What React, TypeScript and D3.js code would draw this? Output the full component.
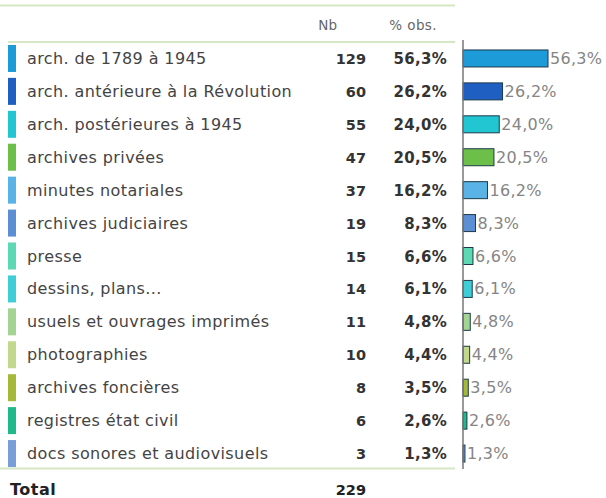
import { useEffect, useRef } from 'react'
import * as d3 from 'd3'

const categories = [
  'arch. de 1789 à 1945',
  'arch. antérieure à la Révolution',
  'arch. postérieures à 1945',
  'archives privées',
  'minutes notariales',
  'archives judiciaires',
  'presse',
  'dessins, plans...',
  'usuels et ouvrages imprimés',
  'photographies',
  'archives foncières',
  'registres état civil',
  'docs sonores et audiovisuels',
]
const counts = [129, 60, 55, 47, 37, 19, 15, 14, 11, 10, 8, 6, 3]
const percents = [56.3, 26.2, 24.0, 20.5, 16.2, 8.3, 6.6, 6.1, 4.8, 4.4, 3.5, 2.6, 1.3]
const colors = [
  '#1c9bd8', '#1f5fc2', '#22c6d2', '#6cc04a', '#5ab3e6', '#5b8ed2', '#5cd8b2',
  '#3fcdd8', '#a3d493', '#c2d88c', '#a6b83a', '#1fb98b', '#7a9fd8',
]
const total = 229

const W = 606
const H = 498
const fmt = (v: number) => v.toFixed(1).replace('.', ',') + '%'

export default function App() {
  const svgRef = useRef<SVGSVGElement>(null)

  useEffect(() => {
    const svg = d3.select(svgRef.current)
    svg.selectAll('*').remove()
    svg.attr('width', W).attr('height', H)

    const font = '"DejaVu Sans", Verdana, sans-serif'
    const y = d3.scaleBand<number>()
      .domain(d3.range(categories.length))
      .range([42, 470])
      .paddingInner(0)
    const x = d3.scaleLinear().domain([0, 56.3]).range([463, 548])

    const lineCol = '#d6e7c4'
    // table rules
    svg.append('line').attr('x1', 0).attr('x2', 455).attr('y1', 5.5).attr('y2', 5.5)
      .attr('stroke', lineCol).attr('stroke-width', 2)
    svg.append('line').attr('x1', 8).attr('x2', 455).attr('y1', 42).attr('y2', 42)
      .attr('stroke', lineCol).attr('stroke-width', 2)
    svg.append('line').attr('x1', 0).attr('x2', 455).attr('y1', 468.5).attr('y2', 468.5)
      .attr('stroke', lineCol).attr('stroke-width', 2)

    // headers
    svg.append('text').attr('x', 337).attr('y', 30).attr('text-anchor', 'end')
      .attr('font-family', font).attr('font-size', 13.5).attr('fill', '#666').text('Nb')
    svg.append('text').attr('x', 437).attr('y', 30).attr('text-anchor', 'end')
      .attr('font-family', font).attr('font-size', 13.5).attr('letter-spacing', 0.4).attr('fill', '#666').text('% obs.')

    const rows = svg.append('g').selectAll('g')
      .data(d3.range(categories.length))
      .join('g')
      .attr('transform', i => `translate(0,${(y(i) ?? 0) + y.bandwidth() / 2})`)

    rows.append('rect').attr('x', 8).attr('y', -13.5).attr('width', 8).attr('height', 27)
      .attr('fill', i => colors[i])
    rows.append('text').attr('x', 27).attr('y', 5.5)
      .attr('font-family', font).attr('font-size', 16).attr('letter-spacing', 0.4).attr('fill', '#444')
      .text(i => categories[i])
    rows.append('text').attr('x', 366).attr('y', 5.5).attr('text-anchor', 'end')
      .attr('font-family', font).attr('font-size', 14.5).attr('font-weight', 'bold').attr('fill', '#333')
      .text(i => counts[i])
    rows.append('text').attr('x', 447).attr('y', 5.5).attr('text-anchor', 'end')
      .attr('font-family', font).attr('font-size', 15).attr('letter-spacing', 0.3)
      .attr('font-weight', 'bold').attr('fill', '#333')
      .text(i => fmt(percents[i]))

    rows.append('rect')
      .attr('x', x(0)).attr('y', -8.5)
      .attr('width', i => Math.max(1, x(percents[i]) - x(0)))
      .attr('height', 17)
      .attr('fill', i => colors[i])
      .attr('stroke', '#1d3a4a').attr('stroke-width', 1)
    rows.append('text')
      .attr('x', i => x(percents[i]) + 2).attr('y', 5.5)
      .attr('font-family', font).attr('font-size', 16).attr('letter-spacing', 0.3).attr('fill', '#858585')
      .text(i => fmt(percents[i]))

    // axis line
    svg.append('line').attr('x1', 463).attr('x2', 463).attr('y1', 40).attr('y2', 469)
      .attr('stroke', '#777').attr('stroke-width', 1.5)

    // total
    svg.append('text').attr('x', 10).attr('y', 495)
      .attr('font-family', font).attr('font-size', 16).attr('letter-spacing', 0.5)
      .attr('font-weight', 'bold').attr('fill', '#222')
      .text('Total')
    svg.append('text').attr('x', 366).attr('y', 495).attr('text-anchor', 'end')
      .attr('font-family', font).attr('font-size', 14.5).attr('font-weight', 'bold').attr('fill', '#222')
      .text(total)
  }, [])

  return (
    <div style={{ position: 'absolute', left: 0, top: 0, background: '#fff' }}>
      <svg ref={svgRef} style={{ display: 'block' }} />
    </div>
  )
}
